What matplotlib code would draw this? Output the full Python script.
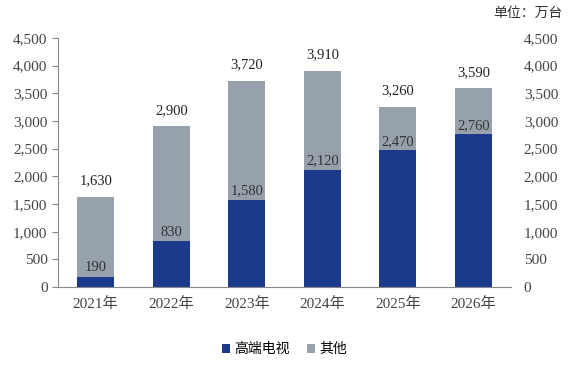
import numpy as np
import matplotlib.pyplot as plt

years = ['2021年', '2022年', '2023年', '2024年', '2025年', '2026年']
high_end = [190, 830, 1580, 2120, 2470, 2760]
totals = [1630, 2900, 3720, 3910, 3260, 3590]
others = [t - h for t, h in zip(totals, high_end)]

fam = ['Liberation Serif', 'Noto Sans CJK SC']
plt.rcParams['font.family'] = fam

blue = '#1b3a8c'
grey = '#97a1ab'

fig = plt.figure(figsize=(5.68, 3.71), dpi=100)
ax = fig.add_axes([0.102, 0.226, 0.798, 0.672])
x = np.arange(len(years))
w = 0.49
ax.bar(x, high_end, w, color=blue, label='高端电视')
ax.bar(x, others, w, bottom=high_end, color=grey, label='其他')

for i in range(len(x)):
    ax.text(x[i], high_end[i] + 40, f'{high_end[i]:,}', ha='center', va='bottom',
            fontsize=10.5, color='#333333')
    ax.text(x[i], totals[i] + 170, f'{totals[i]:,}', ha='center', va='bottom',
            fontsize=10.5, color='#222222')

ax.set_xlim(-0.5, 5.5)
ax.set_ylim(0, 4500)
ticks = np.arange(0, 4501, 500)
ax.set_yticks(ticks)
ax.set_yticklabels([f'{t:,}' for t in ticks])
ax.set_xticks(x)
ax.set_xticklabels(years)
ax.tick_params(axis='y', labelsize=11, colors='#444444', length=4, color='#888888')
ax.tick_params(axis='x', labelsize=11, colors='#444444', length=0, pad=7)
for s in ['top', 'right']:
    ax.spines[s].set_visible(False)
ax.spines['left'].set_color('#888888')
ax.spines['bottom'].set_color('#888888')

ax2 = ax.twinx()
ax2.set_ylim(0, 4500)
ax2.set_yticks(ticks)
ax2.set_yticklabels([f'{t:,}' for t in ticks])
ax2.tick_params(axis='y', labelsize=11, colors='#444444', length=0, pad=9)
for s in ['top', 'right', 'left', 'bottom']:
    ax2.spines[s].set_visible(False)

fig.text(0.99, 0.965, '单位：万台', ha='right', va='center', fontsize=10,
         family=['Noto Sans CJK SC'], color='#333333')

ax.legend(loc='upper center', bbox_to_anchor=(0.5, -0.17), ncol=2, frameon=False,
          handlelength=0.6, handleheight=0.6, handletextpad=0.3,
          columnspacing=1.2, prop={'family': ['Noto Sans CJK SC'], 'size': 10})

fig.savefig('out.png', dpi=100)
